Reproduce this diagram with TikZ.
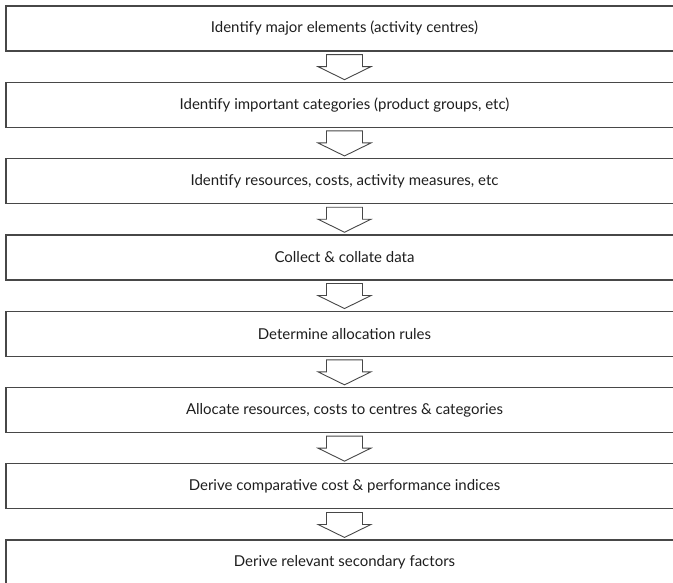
\documentclass[tikz,border=0pt]{standalone}
\usepackage{fontspec}
\setmainfont{Lato}
\usepackage{tikz}
\usetikzlibrary{positioning, calc}

\definecolor{boxline}{HTML}{474747}
\definecolor{boxtext}{HTML}{1E1E1E}

% hollow block arrow from the bottom of one box to the top of the next
\newcommand{\flowarrow}[2]{%
  \draw[hollow] ($(#1.south)+(-18,-3)$) -- ++(0,-12) -- ++(-8.5,0)
    -- ($(#2.north)+(0,2)$) -- ($(#1.south)+(26.5,-15)$) -- ++(-8.5,0)
    -- ++(0,12) -- cycle;}

\begin{document}
\begin{tikzpicture}[
        x=1pt, y=1pt,
        node distance=30pt,
        stepbox/.style={draw=boxline, line width=1.3pt, text=boxtext, font=\fontsize{15}{17}\selectfont,
                        minimum width=677pt, minimum height=45pt, inner sep=0pt, align=center},
        hollow/.style={draw=boxline, line width=0.9pt, fill=white, line join=miter}
    ]
    \useasboundingbox (0,0) rectangle (673,-583);
    \clip (0,0) rectangle (673,-583);

    \node[stepbox] (s1) at (344.5,-28.5) {Identify major elements (activity centres)};
    \node[stepbox, below=of s1] (s2) {Identify important categories (product groups, etc)};
    \node[stepbox, below=of s2] (s3) {Identify resources, costs, activity measures, etc};
    \node[stepbox, below=of s3] (s4) {Collect \& collate data};
    \node[stepbox, below=of s4] (s5) {Determine allocation rules};
    \node[stepbox, below=of s5] (s6) {Allocate resources, costs to centres \& categories};
    \node[stepbox, below=of s6] (s7) {Derive comparative cost \& performance indices};
    \node[stepbox, below=of s7] (s8) {Derive relevant secondary factors};

    \flowarrow{s1}{s2}
    \flowarrow{s2}{s3}
    \flowarrow{s3}{s4}
    \flowarrow{s4}{s5}
    \flowarrow{s5}{s6}
    \flowarrow{s6}{s7}
    \flowarrow{s7}{s8}
\end{tikzpicture}
\end{document}
